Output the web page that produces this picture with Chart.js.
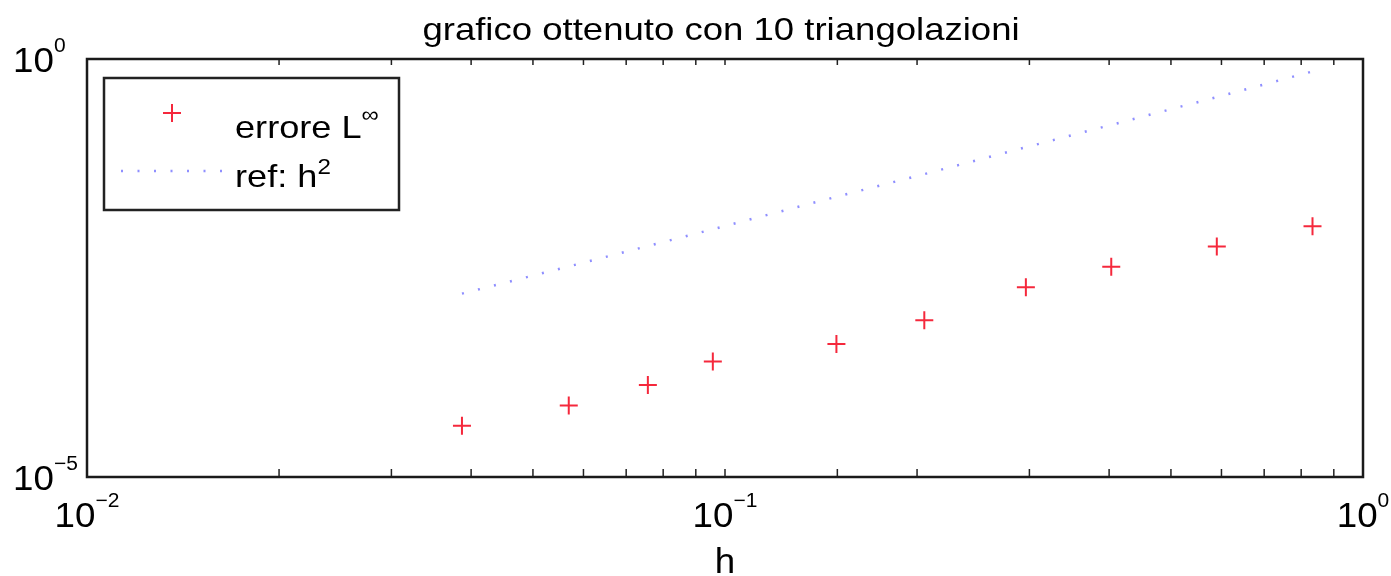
<!DOCTYPE html>
<html>
<head>
<meta charset="utf-8">
<script src="https://cdn.jsdelivr.net/npm/chart.js@4.4.1/dist/chart.umd.min.js"></script>
<style>
    html, body { margin: 0; padding: 0; background: #fff; }
    #wrap { width: 1391px; height: 576px; }
</style>
</head>
<body>
<div id="wrap"><canvas id="chart"></canvas></div>
<script>
// values
const h_values = [0.0387, 0.0569, 0.0757, 0.0957, 0.1495, 0.2053, 0.2962, 0.4031, 0.590, 0.8334];
const error_values = [4.09e-5, 7.16e-5, 1.26e-4, 2.41e-4, 3.90e-4, 7.48e-4, 1.86e-3, 3.27e-3, 5.73e-3, 1.00e-2];
const ref_values = [1.56e-3, 3.3e-3, 5.8e-3, 9.2e-3, 2.25e-2, 4.2e-2, 8.8e-2, 0.163, 0.35, 0.71];

const x_tick_labels = [{value: 0.01, exp: "\u22122"}, {value: 0.1, exp: "\u22121"}, {value: 1, exp: "0"}];
const y_tick_labels = [{value: 1, exp: "0"}, {value: 1e-5, exp: "\u22125"}];

const title_text = "grafico ottenuto con 10 triangolazioni";
const x_label = "h";
const legend_error = "errore L";
const legend_ref = "ref: h";

const FONT = '"Liberation Sans", Arial, Helvetica, sans-serif';
const RED = 'rgb(245, 40, 60)';
const BLUE = 'rgba(115, 115, 255, 0.8)';

function toPoints(xs, ys) {
    let pts = [];
    for (let i = 0; i < xs.length; i++) {
        pts.push({x: xs[i], y: ys[i]});
    }
    return pts;
}

// the original text is a bit wider than liberation sans, so stretch it horizontally
function drawText(ctx, text, x, y, size, sx, align) {
    ctx.save();
    ctx.font = size + 'px ' + FONT;
    let w = ctx.measureText(text).width * sx;
    let start = align === 'center' ? x - w / 2 : x;
    ctx.translate(start, y);
    ctx.scale(sx, 1);
    ctx.textAlign = 'left';
    ctx.textBaseline = 'alphabetic';
    ctx.fillStyle = '#000';
    ctx.fillText(text, 0, 0);
    ctx.restore();
    return w;
}

function textWidth(ctx, text, size, sx) {
    ctx.font = size + 'px ' + FONT;
    return ctx.measureText(text).width * sx;
}

// draws "10" with a raised exponent, like matlab does
function drawPower(ctx, base, exp, x, y, align) {
    let wb = textWidth(ctx, base, 35, 1.05);
    let we = textWidth(ctx, exp, 20, 1.05);
    let start = x;
    if (align === 'center') start = x - (wb + we) / 2;
    drawText(ctx, base, start, y, 35, 1.05, 'left');
    drawText(ctx, exp, start + wb, y - 20, 20, 1.05, 'left');
}

function drawCross(ctx, x, y, r) {
    ctx.beginPath();
    ctx.moveTo(x - r, y);
    ctx.lineTo(x + r, y);
    ctx.moveTo(x, y - r);
    ctx.lineTo(x, y + r);
    ctx.stroke();
}

const matlab_axes = {
    id: 'matlab_axes',
    afterDraw: (chart) => {
        const ctx = chart.ctx;
        const area = chart.chartArea;
        const xs = chart.scales.x;
        const ys = chart.scales.y;
        ctx.save();

        // minor ticks on top and bottom, pointing inside
        ctx.strokeStyle = '#222';
        ctx.lineWidth = 1.5;
        xs.ticks.forEach((t) => {
            let px = xs.getPixelForValue(t.value);
            ctx.beginPath();
            ctx.moveTo(px, area.bottom);
            ctx.lineTo(px, area.bottom - 8);
            ctx.moveTo(px, area.top);
            ctx.lineTo(px, area.top + 6);
            ctx.stroke();
        });

        // frame
        ctx.lineWidth = 2.5;
        ctx.strokeStyle = '#1a1a1a';
        ctx.strokeRect(area.left, area.top, area.right - area.left, area.bottom - area.top);

        // title
        drawText(ctx, title_text, 721, 39.5, 31.5, 1.16, 'center');

        // tick labels
        x_tick_labels.forEach((t) => {
            drawPower(ctx, "10", t.exp, xs.getPixelForValue(t.value), area.bottom + 50, 'center');
        });
        y_tick_labels.forEach((t) => {
            let py = ys.getPixelForValue(t.value);
            drawPower(ctx, "10", t.exp, 13, py + 13, 'left');
        });

        // axis label
        drawText(ctx, x_label, (area.left + area.right) / 2, area.bottom + 96, 35, 1.05, 'center');

        // legend box
        let lx = area.left + 17, ly = area.top + 19;
        ctx.fillStyle = '#fff';
        ctx.fillRect(lx, ly, 295, 132);
        ctx.lineWidth = 2.5;
        ctx.strokeStyle = '#222';
        ctx.strokeRect(lx, ly, 295, 132);

        ctx.strokeStyle = RED;
        ctx.lineWidth = 2;
        drawCross(ctx, lx + 68, ly + 35, 9);

        ctx.strokeStyle = BLUE;
        ctx.lineWidth = 2.5;
        ctx.setLineDash([2, 14.5]);
        ctx.beginPath();
        ctx.moveTo(lx + 17, ly + 93);
        ctx.lineTo(lx + 122, ly + 93);
        ctx.stroke();
        ctx.setLineDash([]);

        let w1 = drawText(ctx, legend_error, lx + 131, ly + 60, 32, 1.13, 'left');
        let w2 = drawText(ctx, legend_ref, lx + 131, ly + 109, 32, 1.13, 'left');
        drawText(ctx, "\u221e", lx + 131 + w1, ly + 44, 22, 1.1, 'left');
        drawText(ctx, "2", lx + 131 + w2, ly + 96, 22, 1.1, 'left');

        ctx.restore();
    }
};

const chart = new Chart(document.getElementById('chart'), {
    type: 'scatter',
    data: {
        datasets: [
            {
                label: legend_error,
                data: toPoints(h_values, error_values),
                showLine: false,
                pointStyle: 'cross',
                pointRadius: 9,
                pointBorderWidth: 2,
                pointBorderColor: RED,
                pointBackgroundColor: RED
            },
            {
                label: legend_ref,
                data: toPoints(h_values, ref_values),
                showLine: true,
                borderColor: BLUE,
                borderWidth: 2.5,
                borderDash: [2, 14.5],
                pointRadius: 0
            }
        ]
    },
    options: {
        responsive: true,
        maintainAspectRatio: false,
        animation: false,
        layout: {
            padding: {left: 87, right: 28, top: 59, bottom: 99}
        },
        scales: {
            x: {
                type: 'logarithmic',
                min: 0.01,
                max: 1,
                display: false,
                ticks: {autoSkip: false}
            },
            y: {
                type: 'logarithmic',
                min: 1e-5,
                max: 1,
                display: false
            }
        },
        plugins: {
            legend: {display: false},
            tooltip: {enabled: false},
            title: {display: false}
        }
    },
    plugins: [matlab_axes]
});
</script>
</body>
</html>
